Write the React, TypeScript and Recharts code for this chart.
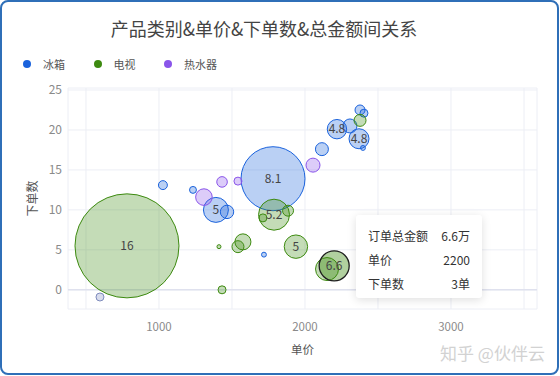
import { ScatterChart, Scatter, XAxis, YAxis, ZAxis, CartesianGrid, ReferenceLine, LabelList, Cell } from "recharts";

const FONT = '"Noto Sans CJK SC", "Noto Sans", sans-serif';

// 冰箱: 单价, 下单数, 气泡大小, 总金额(万)
const fridge = [
  { x: 1027, y: 13.1, z: 20 },
  { x: 1233, y: 12.5, z: 12 },
  { x: 1390, y: 10, z: 156, label: 5 },
  { x: 1466, y: 9.75, z: 45 },
  { x: 1781, y: 13.9, z: 1024, label: 8.1 },
  { x: 2116, y: 17.6, z: 42 },
  { x: 2219, y: 20.1, z: 94, label: 4.8 },
  { x: 2308, y: 20.5, z: 49 },
  { x: 2370, y: 18.9, z: 100, label: 4.8 },
  { x: 2377, y: 22.5, z: 25 },
  { x: 2404, y: 22.1, z: 16 },
  { x: 2397, y: 17.75, z: 6 },
  { x: 1719, y: 4.4, z: 6 },
  { x: 596, y: -0.9, z: 16 },
];

// 电视
const tv = [
  { x: 781, y: 5.5, z: 2704, label: 16 },
  { x: 1788, y: 9.4, z: 240, label: 5.2 },
  { x: 1884, y: 9.9, z: 30 },
  { x: 1712, y: 9, z: 16 },
  { x: 1411, y: 5.4, z: 4 },
  { x: 1541, y: 5.4, z: 36 },
  { x: 1575, y: 6, z: 64 },
  { x: 1938, y: 5.4, z: 137, label: 5 },
  { x: 2151, y: 2.6, z: 132 },
  { x: 2200, y: 3, z: 225, label: 6.6 },
  { x: 1432, y: 0, z: 16 },
  { x: 2377, y: 21.2, z: 36 },
];

// 热水器
const heater = [
  { x: 1308, y: 11.6, z: 69 },
  { x: 1432, y: 13.5, z: 28 },
  { x: 1541, y: 13.6, z: 16 },
  { x: 2055, y: 15.6, z: 49 },
];

const series = [
  { name: "冰箱", data: fridge, color: "#1a62dc" },
  { name: "电视", data: tv, color: "#3d8a10" },
  { name: "热水器", data: heater, color: "#8a55ea" },
];

const xTicks = [500, 1000, 1500, 2000, 2500, 3000, 3500];
const yTicks = [0, 5, 10, 15, 20, 25];

const activeTv = 9; // hovered bubble
const mutedFridge = 13; // greyish dot at the bottom left

export default function App() {
  const hovered = tv[activeTv];
  return (
    <div
      style={{
        position: "absolute",
        left: 0,
        top: 0,
        width: 559,
        height: 375,
        boxSizing: "border-box",
        border: "2px solid #2f6fb8",
        borderRadius: 8,
        background: "#fff",
        fontFamily: FONT,
        overflow: "hidden",
      }}
    >
      <div style={{ position: "absolute", left: -2, top: -1 }}>
        <ScatterChart width={560} height={376} margin={{ top: 87, right: 23, bottom: 18, left: 28 }}>
          <CartesianGrid stroke="#eceef5" />
          <XAxis
            type="number"
            dataKey="x"
            domain={[377, 3589]}
            ticks={xTicks}
            allowDataOverflow
            tickFormatter={(v: number) => (v % 1000 === 0 ? String(v) : "")}
            axisLine={false}
            tickLine={false}
            tickSize={12}
            tickMargin={2}
            height={50}
            tick={{ fill: "#8a8a8a", fontSize: 11.5, fontFamily: FONT }}
            label={{ value: "单价", position: "insideBottom", offset: 5, fill: "#555", fontSize: 11.5, fontFamily: FONT }}
          />
          <YAxis
            type="number"
            dataKey="y"
            domain={[-2.4, 25.25]}
            ticks={yTicks}
            allowDataOverflow
            axisLine={false}
            tickLine={false}
            tickSize={4}
            tickMargin={2}
            width={40}
            tick={{ fill: "#8a8a8a", fontSize: 12, fontFamily: FONT }}
            label={{
              value: "下单数",
              angle: -90,
              position: "insideLeft",
              offset: 5,
              fill: "#555",
              fontSize: 12,
              fontFamily: FONT,
              style: { textAnchor: "middle" },
            }}
          />
          <ZAxis type="number" dataKey="z" domain={[0, 2704]} range={[0, Math.PI * 2704]} />
          <ReferenceLine y={0} stroke="#dfe1ee" strokeWidth={1.5} />
          {series.map((s) => (
            <Scatter
              key={s.name}
              name={s.name}
              data={s.data}
              fill={s.color}
              fillOpacity={0.3}
              stroke={s.color}
              strokeWidth={1}
              isAnimationActive={false}
            >
              {s.data.map((_, i) => {
                if (s.name === "电视" && i === activeTv)
                  return <Cell key={i} stroke="#1e1e1e" strokeWidth={1.3} fillOpacity={0.4} />;
                if (s.name === "冰箱" && i === mutedFridge)
                  return <Cell key={i} fill="#7f8cc4" stroke="#7f8cbd" />;
                return <Cell key={i} />;
              })}
              <LabelList dataKey="label" position="center" fill="#444" fontSize={12} fontFamily={FONT} />
            </Scatter>
          ))}
        </ScatterChart>
      </div>

      <div
        style={{
          position: "absolute",
          left: 0,
          width: 524,
          top: 14,
          textAlign: "center",
          fontSize: 18,
          color: "#444",
          lineHeight: "24px",
        }}
      >
        产品类别&单价&下单数&总金额间关系
      </div>

      <div style={{ position: "absolute", left: 21, top: 52, display: "flex" }}>
        {series.map((s) => (
          <div key={s.name} style={{ display: "flex", alignItems: "center", width: 70.5, height: 20 }}>
            <div style={{ width: 8, height: 8, borderRadius: 4, background: s.color, marginRight: 12 }} />
            <span style={{ fontSize: 11, color: "#555" }}>{s.name}</span>
          </div>
        ))}
      </div>

      <div
        style={{
          position: "absolute",
          left: 354,
          top: 213,
          width: 126,
          height: 83,
          background: "#fff",
          borderRadius: 3,
          boxShadow: "0 2px 10px rgba(0,0,0,0.13)",
          fontSize: 12,
          color: "#333",
          padding: "9px 12px 0 12px",
          boxSizing: "border-box",
        }}
      >
        {[
          ["订单总金额", `${hovered.label}万`],
          ["单价", String(hovered.x)],
          ["下单数", `${hovered.y}单`],
        ].map(([k, v]) => (
          <div key={k} style={{ display: "flex", justifyContent: "space-between", height: 24, lineHeight: "24px" }}>
            <span>{k}</span>
            <span>{v}</span>
          </div>
        ))}
      </div>

      <div style={{ position: "absolute", left: 438, top: 338, fontSize: 17, color: "#d2d2d2" }}>知乎 @伙伴云</div>
    </div>
  );
}
